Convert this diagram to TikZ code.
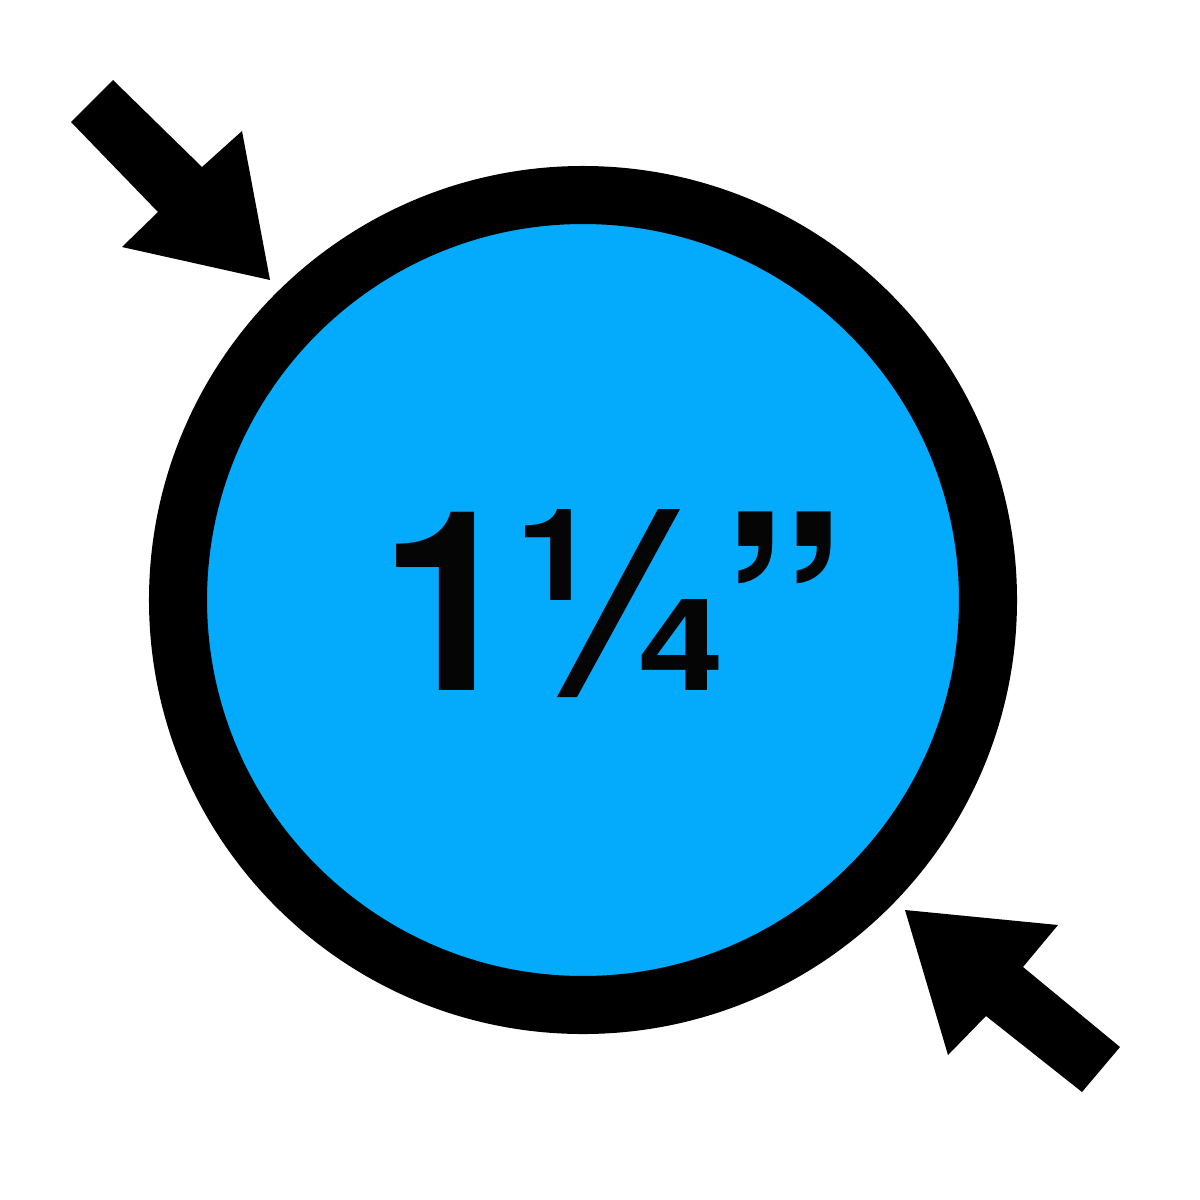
\documentclass[tikz,border=0pt]{standalone}
\usepackage{fontspec}
\newfontfamily\arialfont{TeX Gyre Heros}
\definecolor{pipeblue}{RGB}{4,170,252}
\definecolor{inkblack}{RGB}{5,5,5}
\begin{document}
\begin{tikzpicture}[x=0.01cm,y=-0.01cm,
  arrowshape/.style={fill=black,draw=none},
  ring/.style={draw=black,line width=0.58cm,fill=pipeblue},
  bigtxt/.style={anchor=base,inner sep=0pt,text=inkblack,font=\arialfont\bfseries\fontsize{71.5}{80}\selectfont},
  smalltxt/.style={anchor=base,inner sep=0pt,text=inkblack,font=\arialfont\bfseries\fontsize{36.5}{40}\selectfont}]
\useasboundingbox (0,0) rectangle (1200,1200);
\fill[white] (0,0) rectangle (1200,1200);
% pipe cross-section
\draw[ring] (583,600) circle[radius=405];
% label 1 1/4"
\node[bigtxt] (one) at (449,690) {1};
\node[smalltxt] (num) at (557,600) {\scalebox{1.15}[1]{1}};
\node[smalltxt] (den) at (681,690) {\scalebox{1.2}[1]{4}};
\fill[inkblack] (658,509) -- (680,509) -- (577,697) -- (557,697) -- cycle;
\node[bigtxt] (quote) at (783,713) {\scalebox{1}[1.1]{”}};
% top-left arrow
\fill[arrowshape] (113,80) -- (202,167) -- (242,131) -- (270,280) -- (122,247) -- (158,212) -- (71,122) -- cycle;
% bottom-right arrow
\fill[arrowshape] (1120,1047) -- (1023,967) -- (1058,925) -- (905,910) -- (948,1055) -- (986,1016) -- (1082,1092) -- cycle;
\end{tikzpicture}
\end{document}
